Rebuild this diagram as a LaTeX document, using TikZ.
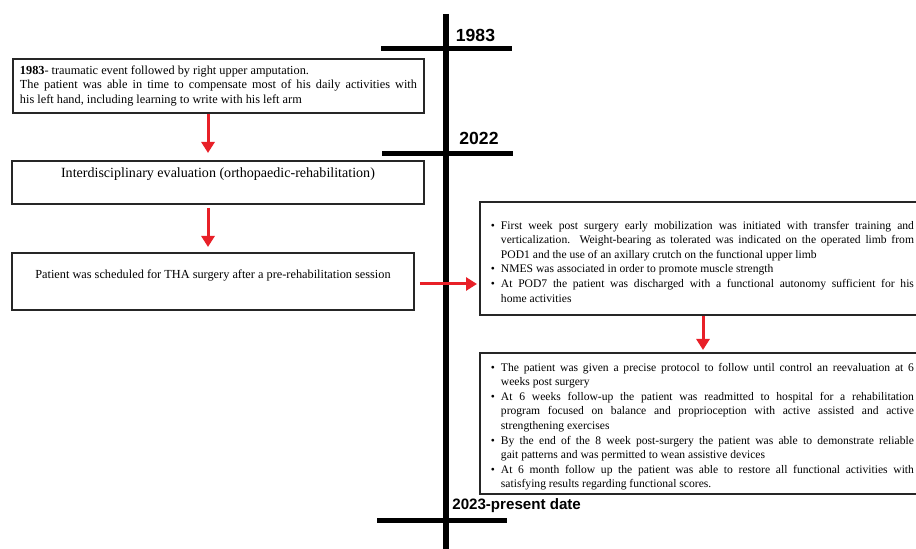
\documentclass[tikz,border=0pt]{standalone}
\usepackage{fontspec}
\setmainfont{Liberation Serif}
\setsansfont{Liberation Sans}
\usepackage{enumitem}
\usetikzlibrary{arrows.meta}

\definecolor{arrowred}{RGB}{232,32,40}

\begin{document}
\begin{tikzpicture}[
    eventbox/.style={
        rectangle,
        draw=black!85,
        line width=1.1pt,
        fill=white,
        anchor=north west,
        inner xsep=0.14cm,
        font=\fontsize{7}{8.3}\selectfont
    },
    listbox/.style={
        eventbox,
        inner xsep=0.18cm,
        inner ysep=0.02cm,
        text width=8.5cm,
        align=justify,
        font=\fontsize{6.6}{8.3}\selectfont
    },
    year/.style={
        font=\sffamily\bfseries\fontsize{10}{12}\selectfont,
        inner sep=0pt
    },
    axis/.style={
        line width=0.12cm
    },
    tick/.style={
        line width=0.09cm
    },
    flow/.style={
        draw=arrowred,
        line width=0.06cm,
        -{Triangle[width=0.26cm,length=0.22cm]}
    }
]

\useasboundingbox (0,0) rectangle (18.32,-10.98);

% Timeline
\draw[axis] (8.92,-0.28) -- (8.92,-11.1);
\draw[tick] (7.62,-0.97) -- (10.24,-0.97);
\draw[tick] (7.64,-3.07) -- (10.26,-3.07);
\draw[tick] (7.54,-10.41) -- (10.14,-10.41);

\node[year] (y1983) at (9.51,-0.70) {1983};
\node[year] (y2022) at (9.58,-2.76) {2022};
\node[year, anchor=west, font=\sffamily\bfseries\fontsize{8.6}{10}\selectfont] (ypresent) at (9.04,-10.12) {2023-present date};

% Left column
\node[eventbox, text width=7.94cm, align=justify, minimum height=1.08cm] (event) at (0.24,-1.16)
    {\textbf{1983}- traumatic event followed by right upper amputation.\\
     The patient was able in time to compensate most of his daily activities with\linebreak
     his left hand, including learning to write with his left arm};
\node[eventbox, minimum width=8.24cm, inner ysep=0.1cm, text height=0.24cm, text depth=0.42cm,
      font=\fontsize{8}{9.6}\selectfont] (evaluation) at (0.22,-3.20)
    {Interdisciplinary evaluation (orthopaedic-rehabilitation)};
\node[eventbox, minimum width=8.04cm, inner ysep=0.1cm, text height=0.42cm, text depth=0.52cm] (schedule) at (0.22,-5.04)
    {Patient was scheduled for THA surgery after a pre-rehabilitation session};

% Right column
\node[listbox, minimum height=2.26cm] (postop) at (9.58,-4.02) {%
    \begin{itemize}[leftmargin=0.24cm, labelsep=0.12cm, itemsep=0pt, topsep=0pt, parsep=0pt, partopsep=0pt]
    \item First week post surgery early mobilization was initiated with transfer training and\linebreak
          verticalization. Weight-bearing as tolerated was indicated on the operated limb from\linebreak
          POD1 and the use of an axillary crutch on the functional upper limb
    \item NMES was associated in order to promote muscle strength
    \item At POD7 the patient was discharged with a functional autonomy sufficient for his\linebreak
          home activities
    \end{itemize}};
\node[listbox, minimum height=2.82cm] (followup) at (9.58,-7.04) {%
    \begin{itemize}[leftmargin=0.24cm, labelsep=0.12cm, itemsep=0pt, topsep=0pt, parsep=0pt, partopsep=0pt]
    \item The patient was given a precise protocol to follow until control an reevaluation at 6\linebreak
          weeks post surgery
    \item At 6 weeks follow-up the patient was readmitted to hospital for a rehabilitation\linebreak
          program focused on balance and proprioception with active assisted and active\linebreak
          strengthening exercises
    \item By the end of the 8 week post-surgery the patient was able to demonstrate reliable\linebreak
          gait patterns and was permitted to wean assistive devices
    \item At 6 month follow up the patient was able to restore all functional activities with\linebreak
          satisfying results regarding functional scores.
    \end{itemize}};

% Arrows
\coordinate (leftx) at (4.16,0);
\coordinate (midy) at (0,-5.68);
\coordinate (rightx) at (14.06,0);
\draw[flow, shorten >=0.14cm] (event.south -| leftx) -- (evaluation.north -| leftx);
\draw[flow, shorten <=0.06cm, shorten >=0.1cm] (evaluation.south -| leftx) -- (schedule.north -| leftx);
\draw[flow, shorten <=0.1cm, shorten >=0.04cm] (schedule.east |- midy) -- (postop.west |- midy);
\draw[flow, shorten >=0.04cm] (postop.south -| rightx) -- (followup.north -| rightx);

\end{tikzpicture}
\end{document}
